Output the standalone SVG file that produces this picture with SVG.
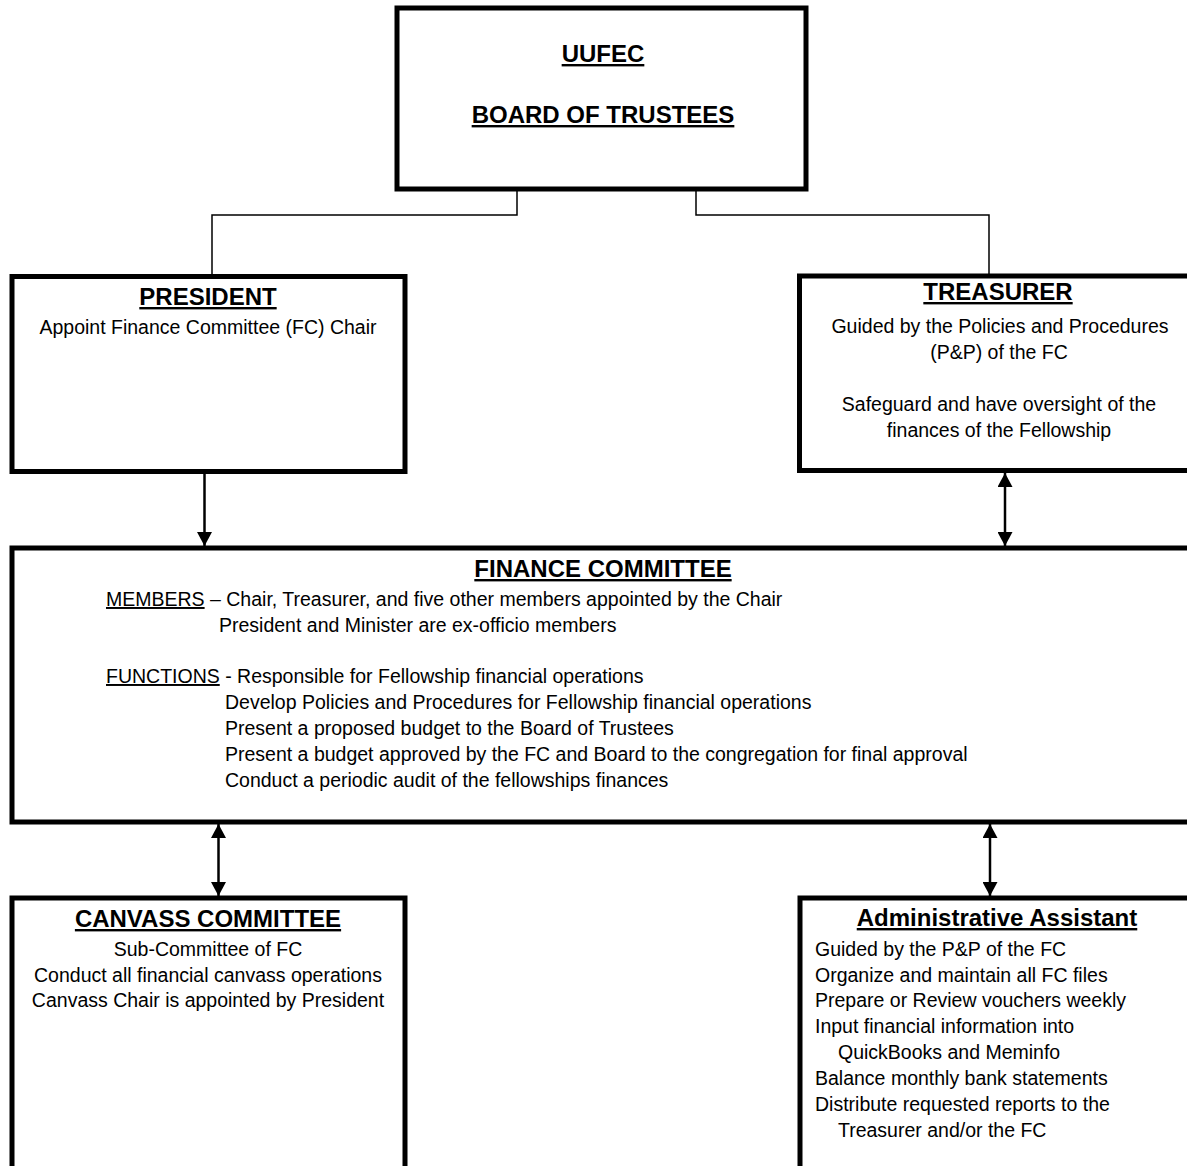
<svg xmlns="http://www.w3.org/2000/svg" width="1187" height="1166" viewBox="0 0 1187 1166">
<style>
  .box { fill: #fff; stroke: #000; stroke-width: 5; }
  .conn { fill: none; stroke: #000; stroke-width: 1.5; }
  .arr { fill: none; stroke: #000; stroke-width: 2.5; }
  text { font-family: "Liberation Sans", Arial, sans-serif; fill: #000; }
  .t { font-size: 24px; font-weight: bold; text-anchor: middle; text-decoration: underline; }
  .b { font-size: 19.5px; }
  .c { text-anchor: middle; }
  .u { text-decoration: underline; }
</style>
<defs>
  <marker id="ah" viewBox="0 0 14 15" markerWidth="14" markerHeight="15" refX="14" refY="7.5" markerUnits="userSpaceOnUse" orient="auto-start-reverse">
    <path d="M0,0 L14,7.5 L0,15 z" fill="#000"/>
  </marker>
</defs>
<rect width="1187" height="1166" fill="#fff"/>

<g id="connectors">
  <polyline class="conn" points="517,191 517,215 212,215 212,274"/>
  <polyline class="conn" points="696,191 696,215 989,215 989,274"/>
  <line class="arr" x1="204.5" y1="474" x2="204.5" y2="546" marker-end="url(#ah)"/>
  <line class="arr" x1="1005" y1="473" x2="1005" y2="546" marker-start="url(#ah)" marker-end="url(#ah)"/>
  <line class="arr" x1="218.5" y1="824" x2="218.5" y2="896" marker-start="url(#ah)" marker-end="url(#ah)"/>
  <line class="arr" x1="990" y1="824" x2="990" y2="896" marker-start="url(#ah)" marker-end="url(#ah)"/>
</g>

<g id="board">
  <rect class="box" x="397" y="8" width="409" height="181"/>
  <text class="t" x="603" y="62">UUFEC</text>
  <text class="t" x="603" y="123">BOARD OF TRUSTEES</text>
</g>

<g id="president">
  <rect class="box" x="12" y="276.5" width="393" height="195"/>
  <text class="t" x="208" y="305">PRESIDENT</text>
  <text class="b c" x="208" y="334">Appoint Finance Committee (FC) Chair</text>
</g>

<g id="treasurer">
  <rect class="box" x="799.5" y="276" width="400" height="194.5"/>
  <text class="t" x="998" y="300">TREASURER</text>
  <text class="b c" x="1000" y="333">Guided by the Policies and Procedures</text>
  <text class="b c" x="999" y="359">(P&amp;P) of the FC</text>
  <text class="b c" x="999" y="411">Safeguard and have oversight of the</text>
  <text class="b c" x="999" y="437">finances of the Fellowship</text>
</g>

<g id="finance-committee">
  <rect class="box" x="12" y="548" width="1190" height="274"/>
  <text class="t" x="603" y="577">FINANCE COMMITTEE</text>
  <text class="b" x="106" y="606"><tspan class="u">MEMBERS</tspan> – Chair, Treasurer, and five other members appointed by the Chair</text>
  <text class="b" x="219" y="632">President and Minister are ex-officio members</text>
  <text class="b" x="106" y="683"><tspan class="u">FUNCTIONS</tspan> - Responsible for Fellowship financial operations</text>
  <text class="b" x="225" y="709">Develop Policies and Procedures for Fellowship financial operations</text>
  <text class="b" x="225" y="735">Present a proposed budget to the Board of Trustees</text>
  <text class="b" x="225" y="761">Present a budget approved by the FC and Board to the congregation for final approval</text>
  <text class="b" x="225" y="787">Conduct a periodic audit of the fellowships finances</text>
</g>

<g id="canvass-committee">
  <rect class="box" x="12" y="898" width="393" height="300"/>
  <text class="t" x="208" y="927">CANVASS COMMITTEE</text>
  <text class="b c" x="208" y="956">Sub-Committee of FC</text>
  <text class="b c" x="208" y="982">Conduct all financial canvass operations</text>
  <text class="b c" x="208" y="1007">Canvass Chair is appointed by President</text>
</g>

<g id="administrative-assistant">
  <rect class="box" x="800" y="898" width="400" height="300"/>
  <text class="t" x="997" y="926">Administrative Assistant</text>
  <text class="b" x="815" y="956">Guided by the P&amp;P of the FC</text>
  <text class="b" x="815" y="982">Organize and maintain all FC files</text>
  <text class="b" x="815" y="1007">Prepare or Review vouchers weekly</text>
  <text class="b" x="815" y="1033">Input financial information into</text>
  <text class="b" x="838" y="1059">QuickBooks and Meminfo</text>
  <text class="b" x="815" y="1085">Balance monthly bank statements</text>
  <text class="b" x="815" y="1111">Distribute requested reports to the</text>
  <text class="b" x="838" y="1137">Treasurer and/or the FC</text>
</g>
</svg>
